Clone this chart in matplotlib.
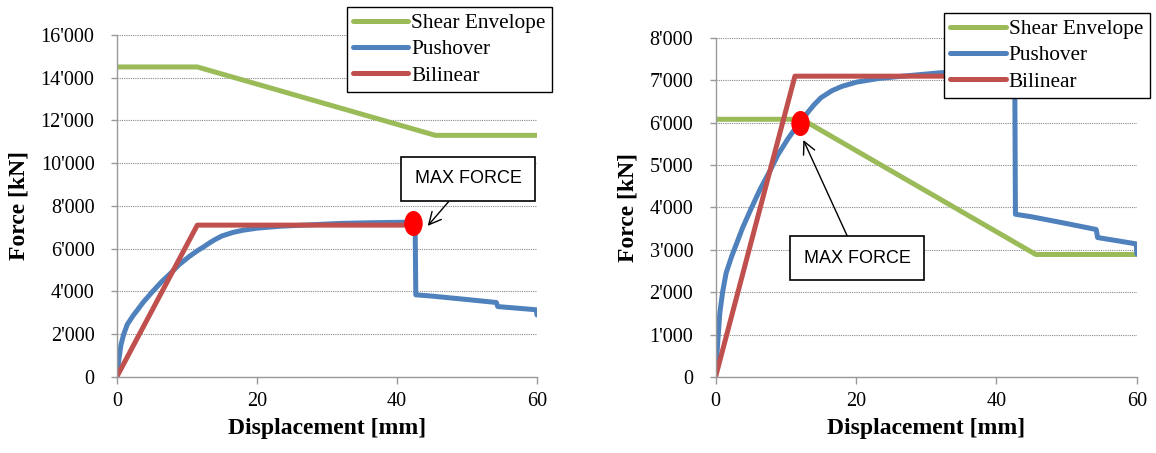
import numpy as np
import matplotlib
matplotlib.use('Agg')
import matplotlib.pyplot as plt
from matplotlib.ticker import FuncFormatter, MultipleLocator
from matplotlib.markers import MarkerStyle
from matplotlib.transforms import Affine2D

plt.rcParams['font.family'] = ['Liberation Serif', 'DejaVu Serif']

##Pushover curve (same for both walls)
push_x = [0, 0.3, 0.6, 1.0, 1.5, 2.3, 3.0, 3.8, 5.0, 6.4, 7.7, 8.9, 10.3, 11.5, 12.4, 13.2,
          14.0, 15.0, 16.6, 18.0, 20.1, 23.2, 26.0, 29.3, 32.0, 36.0, 42.1, 42.6, 42.7, 45.0,
          50.0, 54.2, 54.4, 57.0, 59.9, 60.0]
push_y = [0, 800, 1500, 2000, 2450, 2850, 3150, 3500, 3950, 4450, 4850, 5250, 5620, 5900, 6080, 6260,
          6420, 6590, 6760, 6860, 6960, 7045, 7090, 7140, 7180, 7210, 7240, 7240, 3840, 3780,
          3620, 3480, 3290, 3220, 3140, 2900]

##Left wall
shear_x_1 = [0, 11.5, 45.5, 60]
shear_y_1 = [14500, 14500, 11300, 11300]
bil_x_1 = [0, 11.5, 42.3]
bil_y_1 = [0, 7100, 7100]
max_1 = (42.3, 7220)

##Right wall
shear_x_2 = [0, 12.3, 45.6, 60]
shear_y_2 = [6082, 6082, 2890, 2890]
bil_x_2 = [0, 11.3, 42.3]
bil_y_2 = [0, 7100, 7100]
max_2 = (12.05, 5990)

green = '#9BBB59'
blue = '#4F81BD'
red = '#C0504D'

ell = MarkerStyle('o', transform=Affine2D().scale(0.72, 1.0))


def style_axes(ax, ymax, ystep):
    ax.set_xlim(0, 60)
    ax.set_ylim(0, ymax)
    ax.xaxis.set_major_locator(MultipleLocator(20))
    ax.yaxis.set_major_locator(MultipleLocator(ystep))
    ax.yaxis.set_major_formatter(FuncFormatter(lambda v, p: f"{v:,.0f}".replace(',', "'")))
    ax.grid(axis='y', color='#888888', linestyle=(0, (1, 1)), linewidth=0.8)
    ax.set_axisbelow(True)
    for s in ['top', 'right']:
        ax.spines[s].set_visible(False)
    for s in ['left', 'bottom']:
        ax.spines[s].set_color('#999999')
        ax.spines[s].set_linewidth(1.0)
    ax.tick_params(axis='both', labelsize=14.5, color='#999999', length=5, width=1)
    ax.tick_params(axis='x', pad=6)
    ax.tick_params(axis='y', length=4, pad=12)
    ax.set_xlabel('Displacement [mm]', fontsize=17, fontweight='bold', labelpad=5)
    ax.set_ylabel('Force [kN]', fontsize=17, fontweight='bold', labelpad=8)


def draw_lines(ax, sx, sy, bx, by, mx):
    ax.plot(sx, sy, color=green, linewidth=3.6, label='Shear Envelope', solid_capstyle='round')
    ax.plot(push_x, push_y, color=blue, linewidth=3.6, label='Pushover', solid_capstyle='round')
    ax.plot(bx, by, color=red, linewidth=3.6, label='Bilinear', solid_capstyle='round')
    ax.plot([mx[0]], [mx[1]], marker=ell, markersize=17, color='#FF0000', zorder=5, clip_on=False)


fig = plt.figure(figsize=(11.56, 4.53), dpi=100)
ax1 = fig.add_axes([0.101, 0.168, 0.3635, 0.755])
ax2 = fig.add_axes([0.619, 0.168, 0.3645, 0.748])

draw_lines(ax1, shear_x_1, shear_y_1, bil_x_1, bil_y_1, max_1)
style_axes(ax1, 16000, 2000)
ax1.annotate('MAX FORCE', xy=(44.4, 7064), xytext=(50.2, 9270), fontsize=13,
             family=['Liberation Sans', 'DejaVu Sans'], ha='center', va='center',
             bbox=dict(boxstyle='square,pad=0.75', fc='white', ec='black', lw=1.2),
             arrowprops=dict(arrowstyle='->', color='black', lw=1.0, mutation_scale=22,
                             shrinkA=0, shrinkB=0), annotation_clip=False, zorder=6)

draw_lines(ax2, shear_x_2, shear_y_2, bil_x_2, bil_y_2, max_2)
style_axes(ax2, 8000, 1000)
ax2.annotate('MAX FORCE', xy=(12.5, 5593), xytext=(20.2, 2800), fontsize=13,
             family=['Liberation Sans', 'DejaVu Sans'], ha='center', va='center',
             bbox=dict(boxstyle='square,pad=0.75', fc='white', ec='black', lw=1.2),
             arrowprops=dict(arrowstyle='->', color='black', lw=1.0, mutation_scale=22,
                             shrinkA=0, shrinkB=0), annotation_clip=False, zorder=6)

for ax, anchor in [(ax1, (1.036, 1.082)), (ax2, (1.03, 1.074))]:
    leg = ax.legend(loc='upper right', bbox_to_anchor=anchor, fontsize=15.3, frameon=True,
                    fancybox=False, edgecolor='black', framealpha=1, borderaxespad=0,
                    handlelength=2.6, handletextpad=0.15, labelspacing=0.3, borderpad=0.3)
    leg.get_frame().set_linewidth(1.0)
    leg.set_zorder(10)

fig.savefig('out.png', dpi=100)
